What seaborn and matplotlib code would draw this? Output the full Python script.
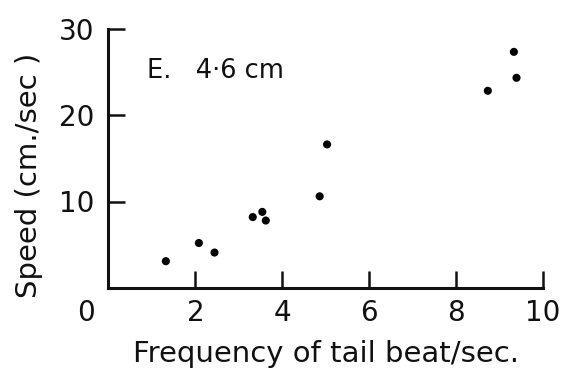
import matplotlib
matplotlib.use("Agg")
import matplotlib.pyplot as plt
import matplotlib.transforms as mtransforms
import seaborn as sns
import pandas as pd

freq = [1.32, 2.08, 2.44, 3.32, 3.54, 3.62, 4.86, 5.03, 8.73, 9.33, 9.39]
speed = [3.1, 5.2, 4.1, 8.2, 8.8, 7.8, 10.6, 16.6, 22.8, 27.3, 24.3]
x_ticks = [0, 2, 4, 6, 8, 10]
y_ticks = [10, 20, 30]
x_label = "Frequency of tail beat/sec."
y_label = "Speed (cm./sec )"
note = "E.   4·6 cm"

df = pd.DataFrame({"freq": freq, "speed": speed})

sns.set_style("ticks")
plt.rcParams["font.family"] = ["DejaVu Sans"]

fig = plt.figure(figsize=(5.61, 3.72), dpi=100)
ax = fig.add_axes([108.5 / 561, 1 - 288 / 372, (543 - 108.5) / 561, (288 - 28.5) / 372])

sns.scatterplot(data=df, x="freq", y="speed", ax=ax, color="black", s=34,
                edgecolor="none", linewidth=0, clip_on=False)

ax.set_xlim(0, 10)
ax.set_ylim(0, 30)
ax.set_xticks(x_ticks)
ax.set_yticks(y_ticks)
ax.set_xticklabels([str(t) for t in x_ticks])
ax.set_yticklabels([str(t) for t in y_ticks])
for sp in ["top", "right"]:
    ax.spines[sp].set_visible(False)
for sp in ["left", "bottom"]:
    ax.spines[sp].set_linewidth(2.2)
    ax.spines[sp].set_color("#111111")
    ax.spines[sp].set_capstyle("projecting")
ax.tick_params(axis="both", direction="in", length=12, width=1.8, color="#111111",
               labelsize=20, labelcolor="#111111")
ax.tick_params(axis="x", pad=8)
ax.tick_params(axis="y", pad=10)

# shift the origin label to the left
lbl0 = ax.get_xticklabels()[0]
lbl0.set_transform(lbl0.get_transform() + mtransforms.ScaledTranslation(-22 / 100, 0, fig.dpi_scale_trans))
ax.xaxis.get_major_ticks()[0].tick1line.set_visible(False)

ax.set_xlabel(x_label, fontsize=21, color="#111111", labelpad=9)
ax.set_ylabel(y_label, fontsize=21, color="#111111")
ax.yaxis.set_label_coords(-0.15, 0.435)
ax.text(0.89, 25.1, note, fontsize=18.5, ha="left", va="center", color="#111111")

fig.savefig("out.png", dpi=100)
